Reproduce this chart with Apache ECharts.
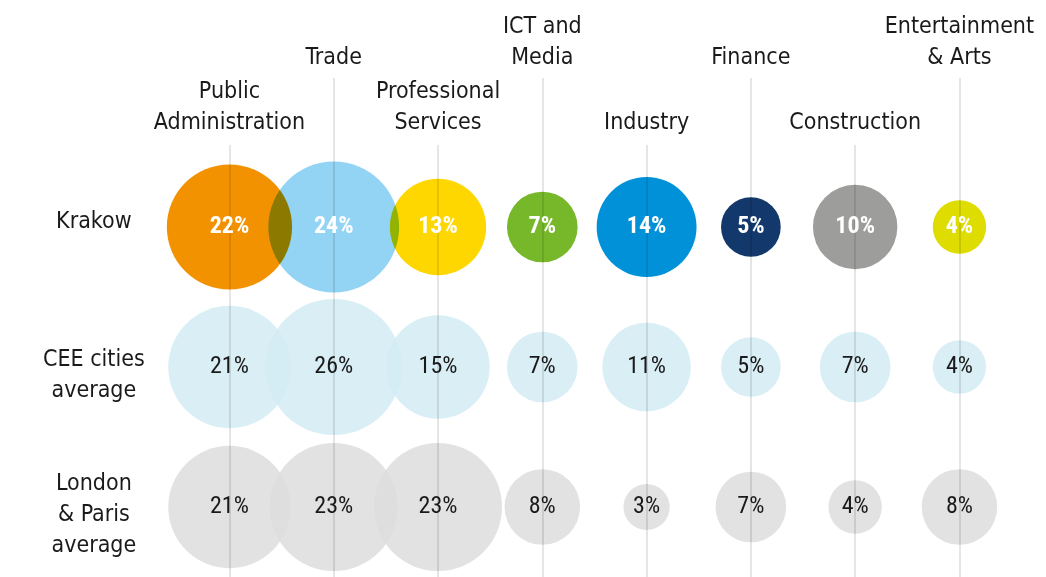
<!DOCTYPE html>
<html>
<head>
<meta charset="utf-8">
<script src="https://cdn.jsdelivr.net/npm/echarts@6/dist/echarts.min.js"></script>
<style>
  html, body { margin: 0; padding: 0; background: #fff; }
  #chart { width: 1046px; height: 577px; }
</style>
</head>
<body>
<div id="chart"></div>
<script>
// sectors across the top, cities down the side
const sectors = ['Public\nAdministration', 'Trade', 'Professional\nServices', 'ICT and\nMedia',
    'Industry', 'Finance', 'Construction', 'Entertainment\n& Arts'];
const cities = ['Krakow', 'CEE cities\naverage', 'London\n& Paris\naverage'];

// share of employment, %
const krakow = [22, 24, 13, 7, 14, 5, 10, 4];
const ceeAverage = [21, 26, 15, 7, 11, 5, 7, 4];
const londonParis = [21, 23, 23, 8, 3, 7, 4, 8];

const krakowColors = ['#F39200', '#93D4F4', '#FFD700', '#76B82A', '#0091D8', '#13386B', '#9D9D9C', '#DEDC00'];
const rowColors = [null, 'rgba(211,235,243,0.87)', 'rgba(222,222,222,0.87)'];

// header labels alternate between a high and a low row
const headerHigh = [false, true, false, true, false, true, false, true];

const FONT = '"DejaVu Sans Condensed", sans-serif';
const NUM_FONT = '"Roboto Condensed", "DejaVu Sans Condensed", sans-serif';
const allRows = [krakow, ceeAverage, londonParis];

const chart = echarts.init(document.getElementById('chart'));

const bubbleSeries = allRows.map((vals, r) => ({
    type: 'scatter',
    blendMode: r === 0 ? 'multiply' : 'source-over',
    z: 2,
    silent: true,
    symbolSize: d => 26.7 * Math.sqrt(d[2]),
    data: vals.map((v, i) => ({
        value: [i, r, v],
        itemStyle: { color: r === 0 ? krakowColors[i] : rowColors[r], opacity: 1 }
    }))
}));

const valueLabelSeries = allRows.map((vals, r) => ({
    type: 'scatter',
    z: 5,
    silent: true,
    symbolSize: 1,
    itemStyle: { color: 'transparent', opacity: 1 },
    label: {
        show: true,
        position: 'inside',
        formatter: p => p.value[2] + '%',
        fontFamily: NUM_FONT,
        fontSize: 24,
        fontWeight: r === 0 ? 'bold' : 'normal',
        color: r === 0 ? '#fff' : '#1a1a1a'
    },
    data: vals.map((v, i) => [i, r, v])
}));

const option = {
    animation: false,
    grid: { left: 0, right: 0, top: 17, bottom: 0 },
    xAxis: { type: 'value', min: -2.2, max: 7.83, show: false },
    yAxis: { type: 'value', min: -1.5, max: 2.5, inverse: true, show: false },
    series: [
        ...bubbleSeries,
        {
            type: 'lines',
            coordinateSystem: 'cartesian2d',
            z: 3,
            silent: true,
            polyline: false,
            lineStyle: { color: 'rgba(0,0,0,0.1)', width: 2, opacity: 1 },
            data: sectors.map((s, i) => ({
                coords: [[i, headerHigh[i] ? -1.064 : -0.586], [i, 2.5]]
            }))
        },
        ...valueLabelSeries,
        {
            // sector headers
            type: 'scatter',
            z: 5,
            silent: true,
            symbolSize: 1,
            itemStyle: { color: 'transparent', opacity: 1 },
            label: {
                show: true,
                position: 'top',
                distance: 0,
                align: 'center',
                formatter: p => sectors[p.dataIndex],
                fontFamily: FONT,
                fontSize: 23,
                lineHeight: 31,
                color: '#1a1a1a'
            },
            data: sectors.map((s, i) => [i, headerHigh[i] ? -1.09 : -0.625])
        },
        {
            // city names
            type: 'scatter',
            z: 5,
            silent: true,
            symbolSize: 1,
            itemStyle: { color: 'transparent', opacity: 1 },
            label: {
                show: true,
                position: 'inside',
                align: 'center',
                formatter: p => cities[p.dataIndex],
                fontFamily: FONT,
                fontSize: 23,
                lineHeight: 31,
                color: '#1a1a1a'
            },
            data: cities.map((c, r) => [-1.3, r + (r === 0 ? -0.035 : 0.06)])
        }
    ]
};

chart.setOption(option);
</script>
</body>
</html>
